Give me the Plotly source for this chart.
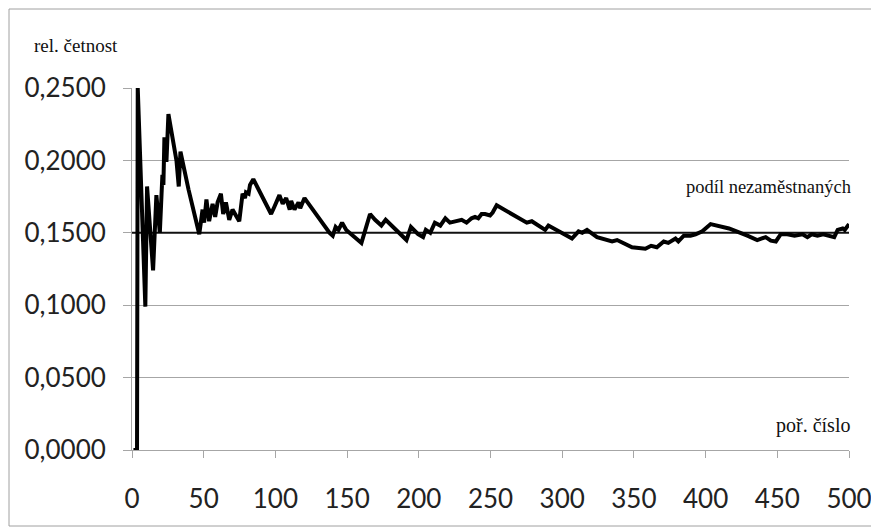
import plotly.graph_objects as go

# cumulative relative frequency (vertices)
x_vals = [1, 3.5, 4, 9.3, 10.5, 14.7, 17, 19.4, 21.2, 21.9, 22.6, 24, 25.4, 31, 32.6, 33.8, 39.4, 46.9,
          49.2, 50.3, 51.9, 53.8, 56.2, 58, 59.7, 62, 63.6, 65.5, 67.8, 70.1, 74.8, 77.1, 78.8, 79.5,
          81.3, 82.3, 84.6, 97, 99.3, 102.8, 105.1, 107.5, 110, 111, 113.3, 116.1, 117.3, 120.3,
          137.8, 140, 142, 144, 146.5, 149.4, 160, 163, 166, 169.5, 173.9, 176.9, 186.7, 191.4,
          194.5, 199.5, 203, 204.9, 208, 211.2, 215, 218.5, 221.7, 225, 229.9, 233.3, 236.8, 239.2,
          241.5, 243.8, 246.2, 249.7, 251.5, 254.3, 275.3, 278.8, 288.1, 290.4, 306.8, 311.4, 314,
          317.3, 324.3, 334.8, 338.3, 348.7, 358, 362, 366, 370.8, 374, 379, 381, 384.8, 389.5, 393,
          397.7, 403.5, 410.5, 416.3, 429.1, 436, 441.9, 445.5, 449, 452.4, 457, 462, 467.6, 471,
          474, 478, 482, 485, 489.7, 492.1, 495.6, 497, 500]
y_vals = [0, 0, 0.25, 0.099, 0.182, 0.124, 0.176, 0.150, 0.190, 0.183, 0.216, 0.199, 0.232, 0.200,
          0.182, 0.206, 0.180, 0.149, 0.166, 0.157, 0.173, 0.158, 0.170, 0.161, 0.171, 0.177, 0.163,
          0.171, 0.159, 0.166, 0.158, 0.177, 0.174, 0.178, 0.177, 0.183, 0.187, 0.163, 0.168, 0.176,
          0.170, 0.174, 0.166, 0.172, 0.166, 0.171, 0.167, 0.174, 0.150, 0.148, 0.154, 0.152, 0.157,
          0.152, 0.143, 0.153, 0.163, 0.159, 0.155, 0.159, 0.149, 0.145, 0.154, 0.149, 0.147, 0.152,
          0.150, 0.157, 0.155, 0.160, 0.157, 0.158, 0.159, 0.157, 0.160, 0.161, 0.160, 0.163, 0.163,
          0.162, 0.164, 0.169, 0.157, 0.158, 0.152, 0.155, 0.146, 0.151, 0.150, 0.152, 0.147, 0.144,
          0.145, 0.140, 0.139, 0.141, 0.140, 0.144, 0.143, 0.146, 0.144, 0.148, 0.148, 0.149, 0.151,
          0.156, 0.154, 0.153, 0.148, 0.145, 0.147, 0.1446, 0.144, 0.149, 0.149, 0.148, 0.149, 0.147,
          0.149, 0.148, 0.149, 0.148, 0.147, 0.152, 0.153, 0.152, 0.156]

# share of unemployed (reference level)
ref_x = [0, 500]
ref_y = [0.15, 0.15]

x_ticks = [0, 50, 100, 150, 200, 250, 300, 350, 400, 450, 500]
y_ticks = [0, 0.05, 0.10, 0.15, 0.20, 0.25]

fig = go.Figure()
fig.add_trace(go.Scatter(x=ref_x, y=ref_y, mode="lines",
                         line=dict(color="#111111", width=2), hoverinfo="skip"))
fig.add_trace(go.Scatter(x=x_vals, y=y_vals, mode="lines",
                         line=dict(color="#000000", width=4)))

# page body has an 8px margin; target screen plot area x 132..849, y 88..450
OFF = 8
W, H = 879, 532
L, T = 132 - OFF, 88 - OFF
R = W - (849 - OFF)
B = H - (450 - OFF)
pw, ph = W - L - R, H - T - B

def px(xs):
    return (xs - OFF - L) / pw

def py(ys):
    return (H - B - (ys - OFF)) / ph

grey = "#a6a6a6"
tickfont = dict(family="Lato, Open Sans, sans-serif", size=26, color="#222222")
serif = "Liberation Serif, Times New Roman, serif"

fig.update_layout(
    width=W, height=H, autosize=False,
    margin=dict(l=L, r=R, t=T, b=B),
    paper_bgcolor="white", plot_bgcolor="white",
    showlegend=False, separators=",.",
    xaxis=dict(range=[0, 500], tickvals=x_ticks, showgrid=False, zeroline=False,
               showline=True, linecolor=grey, linewidth=1,
               ticks="outside", ticklen=7, tickcolor=grey, tickwidth=1,
               tickfont=tickfont, ticklabelstandoff=19),
    yaxis=dict(range=[0, 0.25], tickvals=y_ticks, tickformat=".4f",
               showgrid=True, gridcolor=grey, gridwidth=1, zeroline=False,
               showline=True, linecolor=grey, linewidth=1,
               ticks="outside", ticklen=8, tickcolor=grey, tickwidth=1,
               tickfont=tickfont, ticklabelstandoff=12),
    annotations=[
        dict(text="rel. četnost", xref="paper", yref="paper", x=px(32), y=py(46),
             xanchor="left", yanchor="middle", showarrow=False,
             font=dict(family=serif, size=19, color="#111111")),
        dict(text="podíl nezaměstnaných", xref="paper", yref="paper", x=px(684), y=py(187),
             xanchor="left", yanchor="middle", showarrow=False,
             font=dict(family=serif, size=18.5, color="#111111")),
        dict(text="poř. číslo", xref="paper", yref="paper", x=px(774), y=py(425),
             xanchor="left", yanchor="middle", showarrow=False,
             font=dict(family=serif, size=20, color="#111111")),
    ],
    shapes=[
        dict(type="rect", xref="paper", yref="paper", x0=px(9), x1=px(872), y0=py(526), y1=py(9),
             line=dict(color="#a0a0a0", width=1), fillcolor="rgba(0,0,0,0)", layer="below"),
    ],
)

fig.write_html("out.html")
